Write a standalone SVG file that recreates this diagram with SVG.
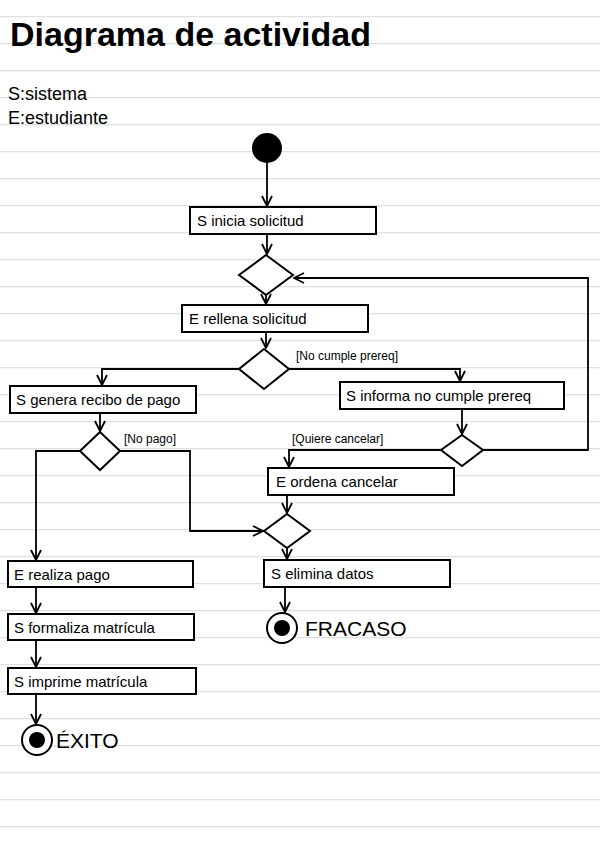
<svg xmlns="http://www.w3.org/2000/svg" width="600" height="848" viewBox="0 0 600 848">
<defs>
<pattern id="ln" width="600" height="27" patternUnits="userSpaceOnUse" y="16"><line x1="0" y1="0.5" x2="600" y2="0.5" stroke="#e0e0e0" stroke-width="1.5"/></pattern>
<marker id="a" viewBox="0 0 12 12" refX="11" refY="6" markerWidth="12" markerHeight="12" markerUnits="userSpaceOnUse" orient="auto"><path d="M1 1 L11 6 L1 11" fill="none" stroke="#000" stroke-width="1.8"/></marker>
</defs>
<style>
.b{fill:#fff;stroke:#000;stroke-width:2}
.d{fill:#fff;stroke:#000;stroke-width:2}
.c{fill:none;stroke:#000;stroke-width:1.8}
.t{font-family:"Liberation Sans",sans-serif;font-size:15px;fill:#000}
.g{font-family:"Liberation Sans",sans-serif;font-size:12px;fill:#000}
</style>
<rect width="600" height="848" fill="#fff"/>
<rect width="600" height="848" fill="url(#ln)"/>
<text x="10" y="46" font-family="Liberation Sans,sans-serif" font-size="34" font-weight="bold">Diagrama  de  actividad</text>
<text x="8" y="100" font-family="Liberation Sans,sans-serif" font-size="18">S:sistema</text>
<text x="8" y="124" font-family="Liberation Sans,sans-serif" font-size="18">E:estudiante</text>
<g id="connectors">
<path class="c" d="M267 163 V206" marker-end="url(#a)"/>
<path class="c" d="M267 234 V254" marker-end="url(#a)"/>
<path class="c" d="M266 295 V304" marker-end="url(#a)"/>
<path class="c" d="M266 332 V348" marker-end="url(#a)"/>
<path class="c" d="M239 369 H102 V385" marker-end="url(#a)"/>
<path class="c" d="M289 369 H460 V381" marker-end="url(#a)"/>
<path class="c" d="M100 413 V431" marker-end="url(#a)"/>
<path class="c" d="M120 451 H190 V531 H263" marker-end="url(#a)"/>
<path class="c" d="M80 451 H36 V560" marker-end="url(#a)"/>
<path class="c" d="M462 409 V434" marker-end="url(#a)"/>
<path class="c" d="M483 450 H588 V278 H294" marker-end="url(#a)"/>
<path class="c" d="M441 450 H289 V467" marker-end="url(#a)"/>
<path class="c" d="M287 495 V513" marker-end="url(#a)"/>
<path class="c" d="M287 548 V559" marker-end="url(#a)"/>
<path class="c" d="M285 587 V612" marker-end="url(#a)"/>
<path class="c" d="M36 587 V613" marker-end="url(#a)"/>
<path class="c" d="M36 640 V667" marker-end="url(#a)"/>
<path class="c" d="M36 694 V724" marker-end="url(#a)"/>
<text class="g" x="296" y="360">[No cumple prereq]</text>
<text class="g" x="124" y="443">[No pago]</text>
<text class="g" x="292" y="443">[Quiere cancelar]</text>
</g>
<g id="start"><circle cx="267" cy="148" r="15" fill="#000"/></g>
<g id="n1"><rect class="b" x="190" y="207" width="186" height="27"/><text class="t" x="197" y="226">S inicia solicitud</text></g>
<g id="d1"><path class="d" d="M266 255 L293 275 L266 295 L239 275 Z"/></g>
<g id="n2"><rect class="b" x="182" y="305" width="186" height="27"/><text class="t" x="189" y="324">E rellena  solicitud</text></g>
<g id="d2"><path class="d" d="M264 349 L289 369 L264 389 L239 369 Z"/></g>
<g id="n3"><rect class="b" x="10" y="386" width="186" height="27"/><text class="t" x="16" y="405">S genera recibo de pago</text></g>
<g id="d3"><path class="d" d="M100 432 L120 451 L100 470 L80 451 Z"/></g>
<g id="n4"><rect class="b" x="340" y="382" width="224" height="27"/><text class="t" x="346" y="401">S informa  no  cumple prereq</text></g>
<g id="d5"><path class="d" d="M462 435 L483 450 L462 466 L441 450 Z"/></g>
<g id="n5"><rect class="b" x="268" y="468" width="186" height="27"/><text class="t" x="276" y="487">E  ordena  cancelar</text></g>
<g id="d4"><path class="d" d="M287 514 L310 531 L287 548 L264 531 Z"/></g>
<g id="n6"><rect class="b" x="264" y="560" width="186" height="27"/><text class="t" x="271" y="579">S  elimina  datos</text></g>
<g id="end1"><circle cx="282" cy="628" r="15" fill="#fff" stroke="#000" stroke-width="2"/><circle cx="282" cy="628" r="8" fill="#000"/><text x="305" y="636" font-family="Liberation Sans,sans-serif" font-size="21">FRACASO</text></g>
<g id="n7"><rect class="b" x="8" y="561" width="185" height="26"/><text class="t" x="14" y="580">E  realiza pago</text></g>
<g id="n8"><rect class="b" x="8" y="614" width="186" height="26"/><text class="t" x="14" y="633">S formaliza matrícula</text></g>
<g id="n9"><rect class="b" x="8" y="668" width="188" height="26"/><text class="t" x="14" y="687">S imprime matrícula</text></g>
<g id="end2"><circle cx="37" cy="740" r="15" fill="#fff" stroke="#000" stroke-width="2"/><circle cx="37" cy="740" r="8" fill="#000"/><text x="56" y="748" font-family="Liberation Sans,sans-serif" font-size="21">ÉXITO</text></g>
</svg>
